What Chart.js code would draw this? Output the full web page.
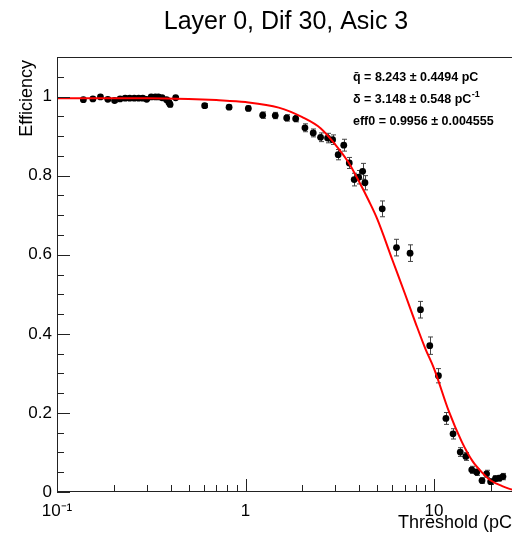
<!DOCTYPE html>
<html><head><meta charset="utf-8">
<script src="https://cdn.jsdelivr.net/npm/chart.js@4.4.0/dist/chart.umd.min.js"></script>
<style>html,body{margin:0;padding:0;background:#fff;overflow:hidden;width:512px;height:535px}canvas{display:block}</style>
</head><body>
<canvas id="c" width="560" height="535"></canvas>
<script>
// ---- data ----
const chartTitle = "Layer 0, Dif 30, Asic 3";
const xTitle = "Threshold (pC)";
const yTitle = "Efficiency";
const xTickValues = [0.1, 1, 10];
const xTickLabels = ["10\u207B\u00B9", "1", "10"];
const yTickValues = [0, 0.2, 0.4, 0.6, 0.8, 1];
const yTickLabels = ["0", "0.2", "0.4", "0.6", "0.8", "1"];

const thresholds = [0.138,0.155,0.170,0.186,0.202,0.216,0.230,0.243,0.257,0.271,0.285,0.299,0.316,0.332,0.345,0.361,0.381,0.392,0.398,0.426,
  0.607,0.818,1.035,1.233,1.438,1.653,1.845,2.066,2.286,2.50,2.724,2.897,3.10,3.32,3.55,3.77,3.98,4.18,4.30,
  5.31,6.32,7.46,8.47,9.49,10.55,11.56,12.61,13.77,14.75,15.85,16.83,17.96,19.0,19.96,21.17,22.18,23.2];
const efficiency = [0.992,0.994,0.999,0.993,0.990,0.994,0.996,0.996,0.996,0.996,0.996,0.993,0.999,0.999,0.999,0.997,0.992,0.985,0.980,0.997,
  0.977,0.973,0.970,0.953,0.952,0.946,0.944,0.921,0.908,0.897,0.895,0.891,0.853,0.877,0.832,0.790,0.796,0.811,0.782,
  0.716,0.618,0.604,0.461,0.370,0.294,0.186,0.147,0.101,0.090,0.056,0.050,0.029,0.046,0.026,0.034,0.035,0.039];
const effError = [0.004,0.004,0.003,0.004,0.004,0.003,0.003,0.003,0.003,0.003,0.003,0.003,0.003,0.003,0.003,0.003,0.004,0.005,0.006,0.003,
  0.005,0.005,0.006,0.008,0.008,0.008,0.008,0.010,0.010,0.011,0.012,0.012,0.013,0.015,0.014,0.016,0.017,0.020,0.018,
  0.020,0.021,0.021,0.021,0.022,0.018,0.015,0.013,0.011,0.010,0.009,0.008,0.007,0.009,0.007,0.007,0.007,0.008];

const fitQ   = [0.1,0.3,0.5,0.7,1,1.5,2,2.5,3,3.5,4,4.5,5,6,7,8,9,10,12,14,16,18,20,23,26,30];
const fitEff = [0.996,0.996,0.994,0.991,0.986,0.972,0.948,0.920,0.878,0.835,0.785,0.737,0.690,0.588,0.502,0.426,0.362,0.312,0.203,0.128,0.078,0.049,0.029,0.015,0.006,0.003];

const statMain = ["q\u0304 = 8.243 \u00B1 0.4494 pC", "\u03B4 = 3.148 \u00B1 0.548 pC", "eff0 = 0.9956 \u00B1 0.004555"];
const statSup  = ["", "-1", ""];

// ---- styling / drawing ----
const FONT = '"Liberation Sans", Arial, Helvetica, sans-serif';

const errorBars = {
  id: 'errorBars',
  beforeDatasetsDraw(chart) {
    const {ctx, chartArea: a, scales: {x, y}} = chart;
    ctx.save();
    ctx.beginPath(); ctx.rect(a.left, a.top, a.right - a.left, a.bottom - a.top); ctx.clip();
    ctx.strokeStyle = '#444'; ctx.lineWidth = 1;
    thresholds.forEach((q, i) => {
      const px = Math.round(x.getPixelForValue(q)) + 0.5;
      const t = y.getPixelForValue(efficiency[i] + effError[i]);
      const b = y.getPixelForValue(efficiency[i] - effError[i]);
      ctx.beginPath();
      ctx.moveTo(px, t); ctx.lineTo(px, b);
      ctx.moveTo(px - 2.5, t); ctx.lineTo(px + 2.5, t);
      ctx.moveTo(px - 2.5, b); ctx.lineTo(px + 2.5, b);
      ctx.stroke();
    });
    ctx.restore();
  }
};

const frameAndText = {
  id: 'frameAndText',
  afterDraw(chart) {
    const {ctx, chartArea: a, scales: {x, y}} = chart;
    ctx.save();
    // frame
    ctx.strokeStyle = '#222'; ctx.lineWidth = 1;
    ctx.strokeRect(Math.round(a.left) + 0.5, Math.round(a.top) + 0.5, Math.round(a.right - a.left), Math.round(a.bottom - a.top) - 1);
    // y ticks (inside)
    ctx.beginPath();
    for (let k = 0; k <= 22; k++) {
      const v = k * 0.05;
      const py = Math.round(y.getPixelForValue(v)) + 0.5;
      const major = (k % 4 === 0);
      ctx.moveTo(a.left, py); ctx.lineTo(a.left + (major ? 13 : 7), py);
    }
    // x ticks (inside)
    for (const dec of [0.1, 1, 10]) {
      for (let m = 1; m <= 9; m++) {
        const v = m * dec;
        if (v > x.max) break;
        const px = Math.round(x.getPixelForValue(v)) + 0.5;
        ctx.moveTo(px, a.bottom); ctx.lineTo(px, a.bottom - (m === 1 ? 13 : 7));
      }
    }
    ctx.stroke();

    ctx.fillStyle = '#000';
    // title
    ctx.font = '25px ' + FONT; ctx.textAlign = 'center'; ctx.textBaseline = 'alphabetic';
    ctx.fillText(chartTitle, 286, 29);
    // x title
    ctx.font = '18px ' + FONT; ctx.textAlign = 'right';
    ctx.fillText(xTitle, 518, 528);
    // y title
    ctx.save();
    ctx.translate(32, a.top); ctx.rotate(-Math.PI / 2);
    ctx.textAlign = 'right'; ctx.fillText(yTitle, -3, 0);
    ctx.restore();
    // stats
    ctx.textAlign = 'left';
    const baselines = [81, 103, 125];
    statMain.forEach((s, i) => {
      ctx.font = 'bold 12.5px ' + FONT;
      ctx.fillText(s, 353, baselines[i]);
      if (statSup[i]) {
        const w = ctx.measureText(s).width;
        ctx.font = 'bold 9px ' + FONT;
        ctx.fillText(statSup[i], 353 + w + 0.5, baselines[i] - 6);
      }
    });
    ctx.restore();
  }
};

new Chart(document.getElementById('c'), {
  type: 'scatter',
  data: {
    datasets: [
      { type: 'line', label: 'fit', data: fitQ.map((q, i) => ({x: q, y: fitEff[i]})),
        borderColor: '#ff0000', borderWidth: 2, pointRadius: 0, cubicInterpolationMode: 'monotone', fill: false, order: 0 },
      { type: 'scatter', label: 'data', data: thresholds.map((q, i) => ({x: q, y: efficiency[i]})),
        backgroundColor: '#000', borderColor: '#000', borderWidth: 0, pointRadius: 3.4, order: 1 }
    ]
  },
  options: {
    responsive: false, animation: false, devicePixelRatio: 1,
    layout: { padding: { top: 57, right: 36, left: 0, bottom: 0 } },
    plugins: { legend: { display: false }, tooltip: { enabled: false }, title: { display: false } },
    scales: {
      x: {
        type: 'logarithmic', min: 0.1, max: 30,
        grid: { display: false, drawTicks: false }, border: { display: false },
        ticks: { autoSkip: false, maxRotation: 0, color: '#000', padding: 9, font: { family: FONT, size: 17 },
          callback: (v) => { const i = xTickValues.findIndex(t => Math.abs(t - v) < 1e-9); return i >= 0 ? xTickLabels[i] : ''; } },
        afterBuildTicks: s => { s.ticks = xTickValues.map(v => ({value: v})); },
        afterFit: s => { s.height = 43; }
      },
      y: {
        type: 'linear', min: 0, max: 1.1,
        grid: { display: false, drawTicks: false }, border: { display: false },
        ticks: { autoSkip: false, color: '#000', padding: 5, font: { family: FONT, size: 17 },
          callback: (v) => { const i = yTickValues.findIndex(t => Math.abs(t - v) < 1e-9); return i >= 0 ? yTickLabels[i] : ''; } },
        afterBuildTicks: s => { s.ticks = yTickValues.map(v => ({value: v})); },
        afterFit: s => { s.width = 57; }
      }
    }
  },
  plugins: [errorBars, frameAndText]
});
</script>
</body></html>
